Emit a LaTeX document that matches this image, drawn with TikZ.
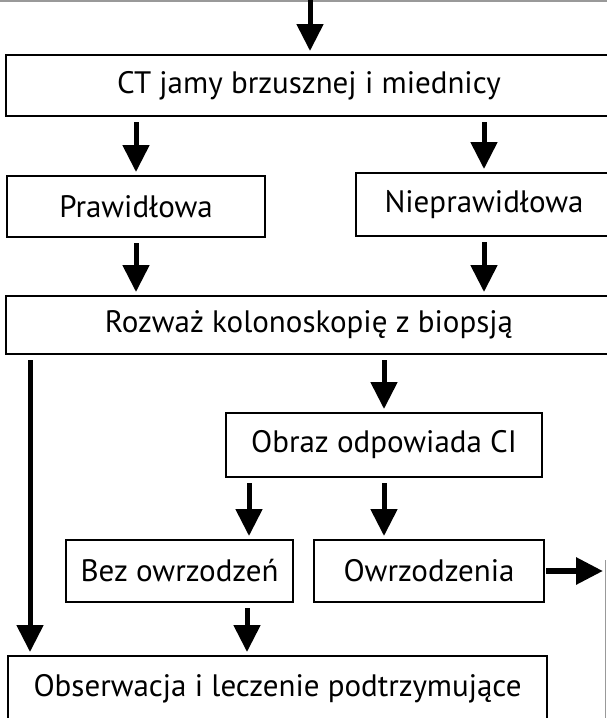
\documentclass[tikz,border=0pt]{standalone}
\usepackage{fontspec}
\setmainfont{PT Sans}
\usetikzlibrary{calc,arrows.meta}
\tikzset{x=1pt, y=-1pt,
  chart box/.style={draw=black, line width=2pt, fill=white, inner sep=0pt,
    font=\fontsize{31}{37}\selectfont},
  flow arrow/.style={line width=5pt, -{Triangle[length=27pt,width=26pt]},
    shorten <=5pt, shorten >=3pt},
  page edge/.style={draw=black!40, line width=1.5pt}
}
\def\FlowBox#1#2#3#4#5#6{%
  \node[chart box, minimum width=#4pt, minimum height=#5pt] (#1) at (#2,#3) {#6};
}

\begin{document}
\begin{tikzpicture}
\path[use as bounding box, clip] (0,0) rectangle (607,718);
\draw[page edge] (0,1) -- (607,1);
\draw[page edge] (605.5,560) -- (605.5,718);
\FlowBox{ct}{309}{85.5}{606}{61}{CT jamy brzusznej i miednicy}
\FlowBox{praw}{136}{206.5}{258}{61}{Prawidłowa}
\FlowBox{niepr}{484}{204.5}{256}{63}{Nieprawidłowa}
\FlowBox{rozw}{309}{325}{606}{58}{Rozważ kolonoskopię z biopsją}
\FlowBox{obraz}{384}{445}{316}{64}{Obraz odpowiada CI}
\FlowBox{bez}{179.5}{571}{227}{62}{Bez owrzodzeń}
\FlowBox{owrz}{429}{571}{230}{62}{Owrzodzenia}
\FlowBox{obs}{277.5}{689}{539}{66}{Obserwacja i leczenie podtrzymujące}
\coordinate (entry) at (310,-2);
\coordinate (exit) at (603,571);
\draw[flow arrow, shorten <=0pt] (entry) -- (entry |- ct.north);
\draw[flow arrow] (ct.south -| praw) -- (praw);
\draw[flow arrow] (ct.south -| niepr) -- (niepr);
\draw[flow arrow] (praw) -- (praw |- rozw.north);
\draw[flow arrow] (niepr) -- (niepr |- rozw.north);
\draw[flow arrow] (rozw.south -| obraz) -- (obraz);
%\draw[flow arrow] (obraz) -- (owrz);
\draw[flow arrow] ($(obraz.south west)+(24,0)$) coordinate (bezin) -- (bezin |- bez.north);
\draw[flow arrow] (obraz) -- (obraz |- owrz.north);
\draw[flow arrow] ($(bez.south east)+(-47,0)$) coordinate (bezout) -- (bezout |- obs.north);
\draw[flow arrow] ($(rozw.south west)+(25,0)$) coordinate (side) -- (side |- obs.north);
\draw[flow arrow, line width=6pt, shorten <=1pt, shorten >=0pt] (owrz.east) -- (exit);
\end{tikzpicture}
\end{document}
